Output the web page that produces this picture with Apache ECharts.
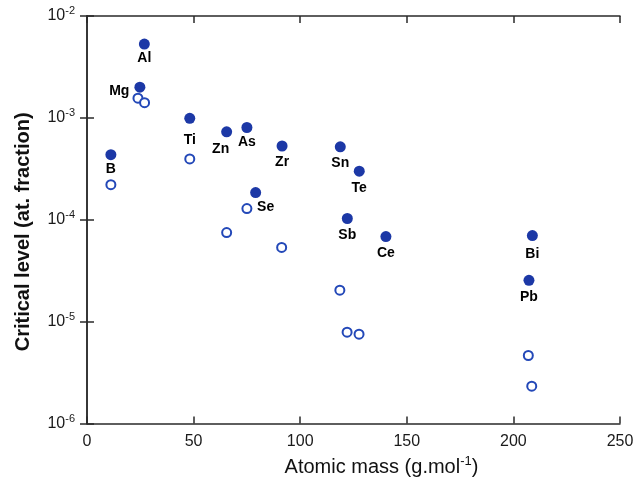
<!DOCTYPE html>
<html>
<head>
<meta charset="utf-8">
<script src="https://cdn.jsdelivr.net/npm/echarts@6/dist/echarts.min.js"></script>
<style>
html,body{margin:0;padding:0;background:#fff;}
#c{width:643px;height:482px;}
</style>
</head>
<body>
<div id="c"></div>
<script>
// Filled points (labelled elements)
const elements = ['B','Mg','Al','Ti','Zn','As','Se','Zr','Sn','Sb','Te','Ce','Pb','Bi'];
const filledMass = [11.2, 24.8, 26.9, 48.2, 65.5, 75.0, 79.1, 91.5, 118.8, 122.1, 127.7, 140.2, 207.3, 208.9];
const filledLevel = [4.36e-4, 2.0e-3, 5.3e-3, 9.9e-4, 7.3e-4, 8.05e-4, 1.85e-4, 5.3e-4, 5.2e-4, 1.03e-4, 3.0e-4, 6.85e-5, 2.55e-5, 7.0e-5];
// Open points
const openMass = [11.2, 23.9, 27.0, 48.2, 65.5, 75.0, 91.3, 118.6, 122.0, 127.6, 207.0, 208.6];
const openLevel = [2.21e-4, 1.56e-3, 1.41e-3, 3.96e-4, 7.5e-5, 1.29e-4, 5.35e-5, 2.04e-5, 7.9e-6, 7.55e-6, 4.66e-6, 2.33e-6];
// Axis ticks
const xTicks = [0, 50, 100, 150, 200, 250];
const yTicks = [1e-6, 1e-5, 1e-4, 1e-3, 1e-2];

// label placement tweaks (style only)
const labelTweaks = {
  Mg: {position: 'left', distance: 5, offset: [0, 4]},
  Se: {offset: [10, -2]},
  Zn: {offset: [-6, 1]},
  Ti: {offset: [0, 5]},
  Al: {offset: [0, -2]},
  B: {offset: [0, -2]},
  As: {offset: [0, -2]},
  Bi: {offset: [0, 2]}
};

const filledData = elements.map((el, i) => {
  const item = {name: el, value: [filledMass[i], filledLevel[i]]};
  if (labelTweaks[el]) item.label = labelTweaks[el];
  return item;
});
const openData = openMass.map((m, i) => [m, openLevel[i]]);

const supFmt = v => {
  const e = Math.round(Math.log10(v));
  return '{b|10}{s|' + e + '}';
};

const axisLine = {show: true, lineStyle: {color: '#2a2a2a', width: 1.5}};
const tick = {show: true, inside: true, length: 7, lineStyle: {color: '#2a2a2a', width: 1.5}};

const chart = echarts.init(document.getElementById('c'), null, {renderer: 'canvas'});
chart.setOption({
  animation: false,
  backgroundColor: '#fff',
  grid: {left: 87, right: 23, top: 16, bottom: 55, show: false},
  xAxis: [{
    type: 'value', min: xTicks[0], max: xTicks[xTicks.length - 1], interval: 50,
    axisLine: axisLine, axisTick: tick, splitLine: {show: false},
    axisLabel: {fontSize: 16, color: '#1a1a1a', margin: 10, fontFamily: 'Liberation Sans, Arial'},
    name: '{a|Atomic mass (g.mol}{s|-1}{a|)}',
    nameLocation: 'middle', nameGap: 30,
    nameTextStyle: {
      padding: [0, 0, 0, 56],
      rich: {
        a: {fontSize: 20, color: '#111', fontFamily: 'Liberation Sans, Arial'},
        s: {fontSize: 13, color: '#111', fontFamily: 'Liberation Sans, Arial', padding: [0, 0, 12, 0]}
      }
    }
  }, {
    type: 'value', position: 'top', min: xTicks[0], max: xTicks[xTicks.length - 1], interval: 50,
    axisLine: axisLine, axisTick: tick, axisLabel: {show: false}, splitLine: {show: false}
  }],
  yAxis: [{
    type: 'log', logBase: 10, min: yTicks[0], max: yTicks[yTicks.length - 1],
    axisLine: axisLine, axisTick: tick, minorTick: {show: false}, splitLine: {show: false},
    axisLabel: {
      margin: 12, formatter: supFmt,
      rich: {
        b: {fontSize: 16, color: '#1a1a1a', fontFamily: 'Liberation Sans, Arial'},
        s: {fontSize: 11, color: '#1a1a1a', fontFamily: 'Liberation Sans, Arial', padding: [0, 0, 10, 0]}
      }
    },
    name: 'Critical level (at. fraction)',
    nameLocation: 'middle', nameGap: 54,
    nameTextStyle: {fontSize: 20, fontWeight: 'bold', color: '#111', fontFamily: 'Liberation Sans, Arial', padding: [0, 24, 0, 0]}
  }, {
    type: 'log', logBase: 10, position: 'right', min: yTicks[0], max: yTicks[yTicks.length - 1],
    axisLine: axisLine, axisTick: tick, axisLabel: {show: false}, splitLine: {show: false}
  }],
  series: [{
    type: 'scatter', name: 'open', data: openData,
    symbol: 'circle', symbolSize: 9,
    itemStyle: {color: '#fff', borderColor: '#2348b8', borderWidth: 2, opacity: 1}
  }, {
    type: 'scatter', name: 'filled', data: filledData,
    symbol: 'circle', symbolSize: 11,
    itemStyle: {color: '#1c38a6', opacity: 1},
    label: {
      show: true, position: 'bottom', distance: 4,
      formatter: p => p.name,
      fontSize: 14, fontWeight: 'bold', color: '#000', fontFamily: 'Liberation Sans, Arial'
    }
  }]
});
</script>
</body>
</html>
